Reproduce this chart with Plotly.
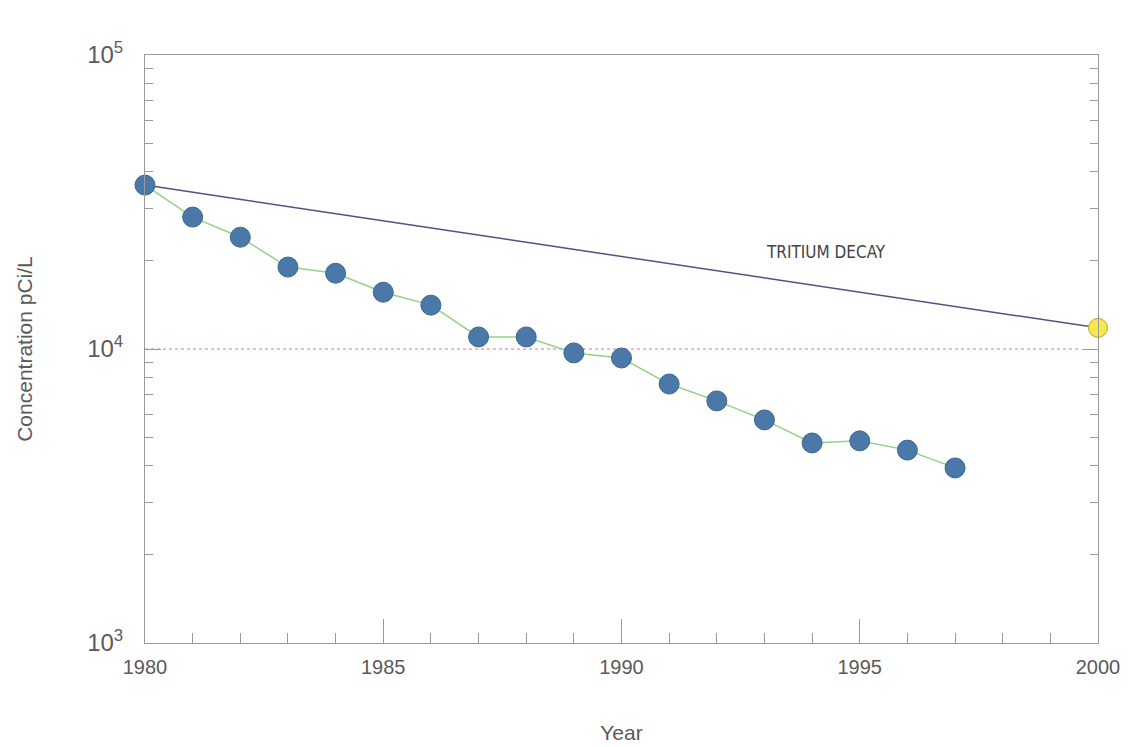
import plotly.graph_objects as go

# measured tritium concentrations (pCi/L)
years = list(range(1980, 1998))
concentration = [36100, 28100, 24000, 19000, 18100, 15600, 14100, 10990, 10990,
                 9700, 9320, 7600, 6660, 5740, 4790, 4870, 4530, 3940]

# theoretical tritium decay from the 1980 value
decay_years = [1980, 2000]
decay_values = [36100, 11800]

# drinking water limit
limit_years = [1980, 1999.6]
limit_values = [10000, 10000]

x_ticks = [1980, 1985, 1990, 1995, 2000]
y_ticks = [1e3, 1e4, 1e5]
y_ticktext = ["10<sup>3</sup>", "10<sup>4</sup>", "10<sup>5</sup>"]

grey = "#5a5a5a"
axis_col = "#9a9a9a"

fig = go.Figure()

fig.add_trace(go.Scatter(x=limit_years, y=limit_values, mode="lines",
                         line=dict(color="#e8708a", width=1, dash="dot"),
                         hoverinfo="skip"))

fig.add_trace(go.Scatter(x=decay_years, y=decay_values, mode="lines",
                         line=dict(color="#5d4a80", width=1.5)))

fig.add_trace(go.Scatter(x=decay_years[-1:], y=decay_values[-1:], mode="markers",
                         marker=dict(size=19, color="#f4e84a",
                                     line=dict(color="#b8a830", width=1)),
                         cliponaxis=False))

fig.add_trace(go.Scatter(x=years, y=concentration, mode="lines+markers",
                         line=dict(color="#93d283", width=1.5),
                         marker=dict(size=20, color="#4a78a8",
                                     line=dict(color="#3d6590", width=1)),
                         cliponaxis=False))

fig.add_annotation(x=1994.3, y=4.33, xref="x", yref="y", text="TRITIUM DECAY",
                   showarrow=False,
                   font=dict(family="DejaVu Sans Condensed, Liberation Sans",
                             size=17, color="#444"))

# the page body adds an 8px offset, so the margins are shifted to compensate
fig.update_layout(
    width=1139, height=747,
    margin=dict(l=137, r=49, t=47, b=112),
    paper_bgcolor="white", plot_bgcolor="white",
    showlegend=False,
    font=dict(family="Liberation Sans, Arial, sans-serif", color=grey, size=18),
)

fig.update_xaxes(
    range=[1980, 2000], tickmode="array", tickvals=x_ticks,
    ticks="inside", ticklen=24, tickcolor=axis_col, tickwidth=1,
    showline=True, linecolor=axis_col, linewidth=1, mirror=True,
    showgrid=False, zeroline=False, ticklabelstandoff=6,
    minor=dict(dtick=1, ticks="inside", ticklen=10, tickcolor=axis_col, showgrid=False),
    tickfont=dict(size=20, color=grey),
    title=dict(text="Year", font=dict(size=21, color=grey), standoff=48),
)

fig.update_yaxes(
    type="log", range=[3, 5], tickmode="array", tickvals=y_ticks, ticktext=y_ticktext,
    ticks="inside", ticklen=16, tickcolor=axis_col, tickwidth=1,
    showline=True, linecolor=axis_col, linewidth=1, mirror="ticks",
    showgrid=False, zeroline=False, ticklabelstandoff=16,
    minor=dict(dtick="D1", ticks="inside", ticklen=8, tickcolor=axis_col, showgrid=False),
    tickfont=dict(size=24, color=grey),
    title=dict(text="Concentration pCi/L", font=dict(size=21, color=grey), standoff=48),
)

fig.write_html("out.html")
